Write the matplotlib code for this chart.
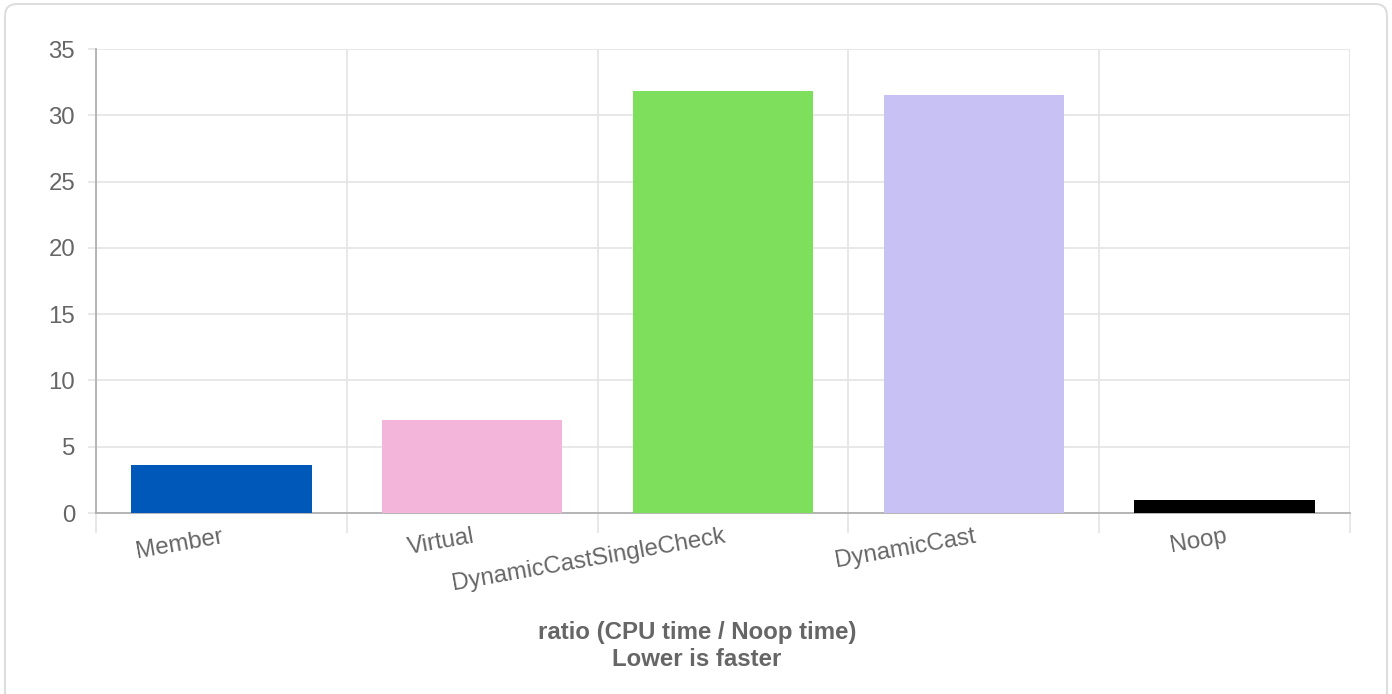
import matplotlib
matplotlib.use("Agg")
import matplotlib.pyplot as plt
import matplotlib.patches as mpatches
import matplotlib.transforms as mtransforms
import numpy as np

categories = ["Member", "Virtual", "DynamicCastSingleCheck", "DynamicCast", "Noop"]
values = [3.62, 7.02, 31.85, 31.55, 1.0]
colors = ["#0059b8", "#f3b5da", "#7edf5c", "#c8c1f3", "#000000"]
y_ticks = [0, 5, 10, 15, 20, 25, 30, 35]
title_lines = ["ratio (CPU time / Noop time)", "Lower is faster"]

plt.rcParams['font.family'] = ['Liberation Sans', 'DejaVu Sans']

W, H = 1392, 694
fig = plt.figure(figsize=(W / 100, H / 100), dpi=100)
fig.patch.set_facecolor("white")

# rounded frame
frame = mpatches.FancyBboxPatch((5, -30), 1382, 690 + 30, boxstyle="round,pad=0,rounding_size=12",
                                transform=mtransforms.IdentityTransform(),
                                facecolor="none", edgecolor="#dedede", linewidth=1.5)
fig.add_artist(frame)

left, right, top, bottom = 96, 1350, 49, 513
ax = fig.add_axes([left / W, 1 - bottom / H, (right - left) / W, (bottom - top) / H])

grid_c = "#e4e4e4"
axis_c = "#b0b0b0"
text_c = "#666666"
fs = 24 * 0.72

x = np.arange(len(categories))
ax.bar(x, values, width=0.72, color=colors, zorder=3)

ax.set_xlim(-0.5, len(categories) - 0.5)
ax.set_ylim(0, 35)
ax.set_yticks(y_ticks)
ax.set_yticklabels([str(t) for t in y_ticks], fontsize=fs, color=text_c)
ax.tick_params(axis='y', length=6, color=grid_c, width=1.2, pad=9)

ax.set_xticks(x)
ax.set_xticklabels(categories, fontsize=fs, color=text_c, rotation=10, ha='right',
                   rotation_mode='anchor')
ax.tick_params(axis='x', which='major', length=0, pad=9)
ax.set_xticks(np.arange(-0.5, len(categories)), minor=True)
ax.tick_params(axis='x', which='minor', length=14.4, color=grid_c, width=1.2)

ax.grid(axis='y', color=grid_c, linewidth=1.2, zorder=0)
ax.grid(axis='x', which='minor', color=grid_c, linewidth=1.2, zorder=0)
ax.grid(axis='x', which='major', visible=False)

for s in ['top', 'right']:
    ax.spines[s].set_visible(False)
ax.spines['left'].set_color(axis_c)
ax.spines['bottom'].set_color(axis_c)
ax.spines['left'].set_linewidth(1.3)
ax.spines['bottom'].set_linewidth(1.3)
ax.set_axisbelow(True)

fig.text(697 / W, 1 - 632 / H, title_lines[0], ha='center', va='center', fontsize=fs,
         fontweight='bold', color=text_c)
fig.text(697 / W, 1 - 660 / H, title_lines[1], ha='center', va='center', fontsize=fs,
         fontweight='bold', color=text_c)

fig.savefig("out.png", dpi=100)
